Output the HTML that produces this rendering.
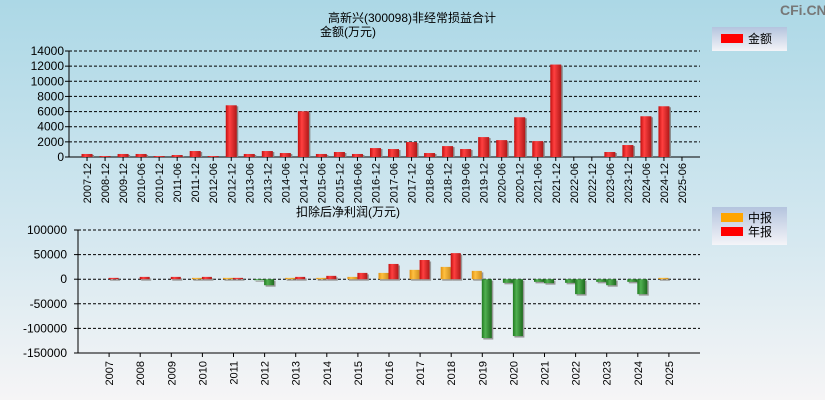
<!DOCTYPE html>
<html><head><meta charset="utf-8">
<style>
body{margin:0;width:825px;height:400px;overflow:hidden;font-family:"Liberation Sans","Noto Sans CJK SC",sans-serif;}
</style></head>
<body>
<svg width="825" height="400" xmlns="http://www.w3.org/2000/svg">
<defs>
<linearGradient id="bg" x1="0" y1="0" x2="0" y2="1"><stop offset="0" stop-color="#acd8e6"/><stop offset="0.6" stop-color="#d5e8f0"/><stop offset="1" stop-color="#f6f5f6"/></linearGradient>
<linearGradient id="lg" x1="0" y1="0" x2="0" y2="1"><stop offset="0" stop-color="#b4c4de"/><stop offset="1" stop-color="#f4f4f8"/></linearGradient>
<linearGradient id="gr" x1="0" y1="0" x2="1" y2="0"><stop offset="0" stop-color="#c41010"/><stop offset="0.35" stop-color="#ff4040"/><stop offset="1" stop-color="#b01818"/></linearGradient>
<linearGradient id="go" x1="0" y1="0" x2="1" y2="0"><stop offset="0" stop-color="#e09010"/><stop offset="0.35" stop-color="#ffc040"/><stop offset="1" stop-color="#d09020"/></linearGradient>
<linearGradient id="gg" x1="0" y1="0" x2="1" y2="0"><stop offset="0" stop-color="#207a20"/><stop offset="0.35" stop-color="#50b050"/><stop offset="1" stop-color="#1e6a1e"/></linearGradient>
</defs>
<rect width="825" height="400" fill="url(#bg)"/>
<text x="780" y="15" font-size="14" fill="#777" font-weight="bold">CFi.CN</text>
<text x="412" y="22" font-size="12" text-anchor="middle">高新兴(300098)非经常损益合计</text>
<text x="348" y="36" font-size="12" text-anchor="middle">金额(万元)</text>
<text x="348" y="216" font-size="12" text-anchor="middle">扣除后净利润(万元)</text>
<g><rect x="712" y="27" width="75" height="24" fill="url(#lg)"/><rect x="721" y="34" width="22" height="9" fill="#f00"/><text x="748" y="43" font-size="12">金额</text></g>
<g><rect x="712" y="207" width="75" height="38" fill="url(#lg)"/><rect x="721" y="213" width="22" height="9" fill="#ffa500"/><text x="748" y="222" font-size="12">中报</text><rect x="721" y="227" width="22" height="9" fill="#f00"/><text x="748" y="236" font-size="12">年报</text></g>
<g id="top"></g><g id="bot"></g>
</svg>
<script>
const topCats=["2007-12","2008-12","2009-12","2010-06","2010-12","2011-06","2011-12","2012-06","2012-12","2013-06","2013-12","2014-06","2014-12","2015-06","2015-12","2016-06","2016-12","2017-06","2017-12","2018-06","2018-12","2019-06","2019-12","2020-06","2020-12","2021-06","2021-12","2022-06","2022-12","2023-06","2023-12","2024-06","2024-12","2025-06"];
const topVals=[400,130,400,400,130,260,790,130,6830,400,790,525,6040,400,660,400,1180,1050,1970,525,1440,1050,2630,2230,5250,2100,12210,0,0,660,1580,5380,6700,0];
const topTicks=[0,2000,4000,6000,8000,10000,12000,14000];
const botCats=["2007","2008","2009","2010","2011","2012","2013","2014","2015","2016","2017","2018","2019","2020","2021","2022","2023","2024","2025"];
const midVals=[0,0,0,2700,2700,-1000,2700,2700,4700,12800,19000,25000,16900,-7400,-5400,-7400,-5400,-5400,2700];
const annVals=[2700,4700,4700,4700,2700,-12200,4700,6800,12800,31000,39000,53000,-119600,-115600,-8100,-30400,-12200,-30400,null];
const botTicks=[-150000,-100000,-50000,0,50000,100000];
const NS="http://www.w3.org/2000/svg";
function mk(p,t,a){const e=document.createElementNS(NS,t);for(const k in a)e.setAttribute(k,a[k]);p.appendChild(e);return e;}
const T=document.getElementById('top');
const tx0=69,tx1=700,ty0=157,ty1=51,tslot=(tx1-tx0)/(topCats.length+1);
const tY=v=>ty0-(v/14000)*(ty0-ty1);
const tX=i=>tx0+tslot*(i+1);
topTicks.forEach(v=>{const y=tY(v);
 if(v>0){const l=mk(T,'line',{x1:tx0,x2:tx1,y1:y,y2:y,stroke:'#000','stroke-dasharray':'3,2','stroke-width':1});}
 mk(T,'line',{x1:tx0-4,x2:tx0,y1:y,y2:y,stroke:'#000'});
 const t=mk(T,'text',{x:tx0-5,y:y+4,'font-size':12,'text-anchor':'end'});t.textContent=v;});
mk(T,'line',{x1:tx0,x2:tx0,y1:ty1,y2:ty0,stroke:'#000'});
mk(T,'line',{x1:tx0,x2:tx1,y1:ty0,y2:ty0,stroke:'#000'});
topCats.forEach((c,i)=>{const x=tX(i);
 mk(T,'line',{x1:x,x2:x,y1:ty0,y2:ty0+4,stroke:'#000'});
 if(topVals[i]>0){const y=tY(topVals[i]);
  mk(T,'rect',{x:x-4,y:y+1,width:11,height:ty0-y-1,fill:'#888'});
  const r=mk(T,'rect',{x:x-5.5,y:y,width:11,height:ty0-y,fill:'url(#gr)'});}
 const t=mk(T,'text',{x:0,y:0,'font-size':11,'text-anchor':'end',transform:`translate(${x+4},${ty0+6}) rotate(-90)`});t.textContent=c;});
const B=document.getElementById('bot');
const bx0=78,bx1=700,by0=353,by1=230,bslot=(bx1-bx0)/(botCats.length+1);
const bY=v=>by1+(100000-v)/250000*(by0-by1);
const bX=i=>bx0+bslot*(i+1);
botTicks.forEach(v=>{const y=bY(v);
 if(v>-150000){const l=mk(B,'line',{x1:bx0,x2:bx1,y1:y,y2:y,stroke:'#000','stroke-dasharray':'3,2'});}
 mk(B,'line',{x1:bx0-4,x2:bx0,y1:y,y2:y,stroke:'#000'});
 const t=mk(B,'text',{x:bx0-11,y:y+4,'font-size':12,'text-anchor':'end'});t.textContent=v;});
mk(B,'line',{x1:bx0,x2:bx0,y1:by1,y2:by0,stroke:'#000'});
mk(B,'line',{x1:bx0,x2:bx1,y1:by0,y2:by0,stroke:'#000'});
function bar(x,v,pos,name){if(v===null||v===0)return;const y0=bY(0),y=bY(v);const top=Math.min(y,y0),h=Math.max(Math.abs(y-y0),1);
 mk(B,'rect',{x:x+1.5,y:top+1.5,width:10,height:h,fill:'#999'});
 const r=mk(B,'rect',{x:x,y:top,width:10,height:h,fill:v<0?'url(#gg)':pos});}
botCats.forEach((c,i)=>{const x=bX(i);
 mk(B,'line',{x1:x,x2:x,y1:by0,y2:by0+4,stroke:'#000'});
 bar(x-10.5,midVals[i],'url(#go)','bar-mid-'+c);
 bar(x-0.5,annVals[i],'url(#gr)','bar-annual-'+c);
 const t=mk(B,'text',{x:0,y:0,'font-size':11,'text-anchor':'end',transform:`translate(${x+4},${by0+8}) rotate(-90)`});t.textContent=c;});
</script>
</body></html>
